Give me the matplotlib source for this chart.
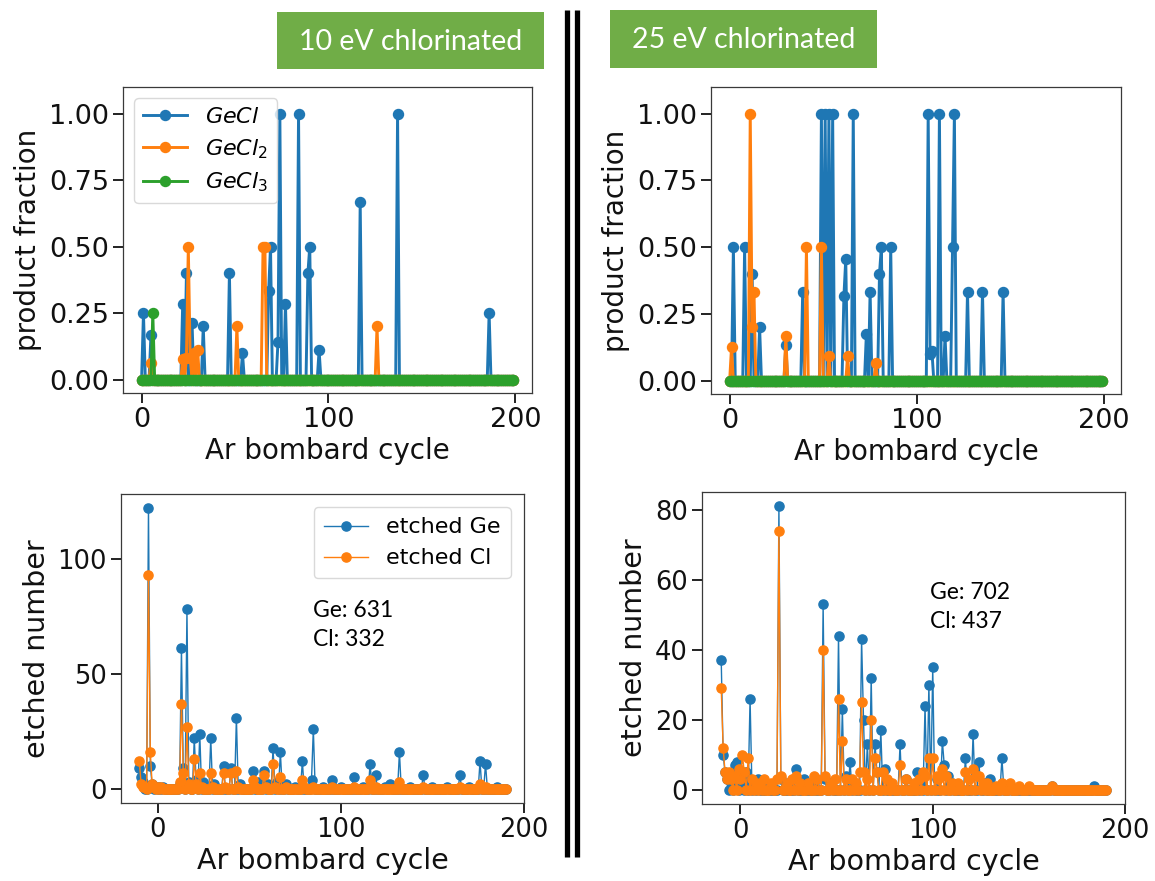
import numpy as np
import matplotlib
matplotlib.use("Agg")
import matplotlib.pyplot as plt
from matplotlib.lines import Line2D
from matplotlib.patches import Rectangle

W, H = 1155, 881
DPI = 100

# ---------------- data ----------------
# top panels: product fraction vs Ar bombard cycle (0..199), only non-zero entries listed
cycles_top = np.arange(0, 200)

gecl_10_cyc = [1, 5, 22, 24, 27, 33, 47, 54, 68, 69, 73, 74, 77, 84, 89, 90, 95, 117, 137, 186]
gecl_10_val = [0.25, 0.167, 0.286, 0.4, 0.214, 0.2, 0.4, 0.1, 0.333, 0.5, 0.143, 1.0, 0.286, 1.0,
               0.4, 0.5, 0.111, 0.667, 1.0, 0.25]
gecl2_10_cyc = [5, 22, 24, 25, 26, 28, 30, 51, 65, 66, 126]
gecl2_10_val = [0.0625, 0.077, 0.083, 0.5, 0.083, 0.1, 0.111, 0.2, 0.5, 0.5, 0.2]
gecl3_10_cyc = [6]
gecl3_10_val = [0.25]

gecl_25_cyc = [2, 8, 12, 16, 30, 39, 49, 51, 53, 55, 61, 62, 66, 73, 75, 80, 81, 86, 106, 107, 108,
               112, 115, 119, 120, 127, 135, 146]
gecl_25_val = [0.5, 0.5, 0.4, 0.2, 0.133, 0.333, 1.0, 1.0, 1.0, 1.0, 0.316, 0.455, 1.0, 0.176, 0.333,
               0.4, 0.5, 0.5, 1.0, 0.1, 0.111, 1.0, 0.167, 0.5, 1.0, 0.333, 0.333, 0.333]
gecl2_25_cyc = [1, 11, 12, 13, 30, 41, 49, 53, 63, 78]
gecl2_25_val = [0.125, 1.0, 0.2, 0.333, 0.167, 0.5, 0.5, 0.091, 0.091, 0.067]
gecl3_25_cyc = []
gecl3_25_val = []

# bottom panels: etched number vs Ar bombard cycle (-10..190), only non-zero entries listed
cycles_bot = np.arange(-10, 191)

ge_10_cyc = [-10, -9, -8, -5, -4, -3, -1, 1, 3, 12, 13, 14, 16, 17, 20, 21, 23, 25, 29, 31, 36, 40,
             43, 45, 52, 55, 58, 60, 63, 65, 67, 70, 75, 79, 84, 85, 90, 95, 100, 107, 112, 116, 119,
             124, 127, 132, 138, 145, 150, 158, 165, 170, 176, 179, 185]
ge_10_val = [9, 5, 3, 122, 10, 2, 1, 1, 1, 2, 61, 9, 78, 3, 22, 4, 24, 3, 22, 2, 10, 9,
             31, 2, 8, 3, 8, 2, 18, 3, 16, 2, 1, 12, 4, 26, 1, 4, 1, 5, 1, 11, 6,
             1, 2, 16, 1, 6, 1, 1, 6, 1, 12, 11, 1]
cl_10_cyc = [-10, -9, -8, -7, -5, -4, -3, -2, 0, 2, 12, 13, 14, 16, 17, 20, 21, 23, 24, 29, 30, 36,
             37, 40, 43, 44, 52, 53, 58, 59, 63, 64, 67, 70, 79, 80, 85, 95, 107, 116, 119, 132,
             145, 165, 176, 179]
cl_10_val = [12, 2, 1, 1, 93, 16, 2, 1, 1, 1, 3, 37, 7, 27, 2, 13, 2, 7, 1, 7, 1, 7,
             1, 7, 8, 1, 4, 1, 6, 1, 11, 1, 5, 1, 4, 1, 1, 1, 1, 4, 1, 3,
             1, 1, 2, 1]

ge_25_cyc = [-10, -9, -8, -7, -5, -3, -2, 0, 1, 3, 5, 7, 9, 14, 20, 21, 25, 29, 33, 38, 43, 44, 47,
             51, 53, 55, 57, 59, 63, 64, 66, 68, 70, 71, 73, 75, 78, 83, 86, 92, 94, 96, 98, 100,
             102, 105, 106, 108, 110, 117, 121, 124, 127, 130, 136, 140, 162, 184]
ge_25_val = [37, 10, 5, 3, 2, 7, 8, 4, 2, 5, 26, 2, 3, 1, 81, 3, 2, 6, 3, 2, 53, 3, 2,
             44, 23, 4, 8, 2, 43, 20, 13, 32, 13, 5, 17, 6, 2, 13, 3, 5, 2, 24, 30, 35,
             3, 14, 7, 4, 2, 9, 16, 8, 2, 3, 9, 1, 1, 1]
cl_25_cyc = [-10, -9, -8, -7, -6, -5, -3, -1, 0, 1, 2, 4, 6, 8, 10, 12, 16, 19, 20, 21, 24, 27, 29,
             31, 35, 38, 40, 43, 44, 47, 49, 51, 53, 55, 58, 60, 62, 63, 64, 66, 68, 70, 71, 74,
             76, 79, 83, 86, 90, 93, 95, 96, 98, 100, 102, 103, 105, 107, 110, 113, 117, 119, 121,
             123, 124, 126, 128, 133, 136, 140, 145, 150, 162]
cl_25_val = [29, 12, 5, 3, 5, 3, 4, 6, 3, 10, 5, 9, 3, 2, 2, 3, 2, 3, 74, 4, 2, 3, 4,
             2, 2, 4, 3, 40, 4, 2, 3, 26, 14, 3, 3, 2, 5, 25, 5, 3, 20, 9, 5, 5,
             3, 2, 7, 3, 2, 3, 5, 4, 9, 9, 4, 3, 6, 4, 2, 2, 5, 3, 6,
             4, 4, 2, 2, 1, 2, 2, 1, 1, 1]

totals_10 = ("Ge: 631", "Cl: 332")
totals_25 = ("Ge: 702", "Cl: 437")
headers = ("10 eV chlorinated", "25 eV chlorinated")


def series(cycles, cyc, val):
    y = np.zeros(len(cycles))
    for c, v in zip(cyc, val):
        y[int(np.where(cycles == c)[0][0])] = v
    return y


# ---------------- styling ----------------
C_BLUE, C_ORANGE, C_GREEN = "#1f77b4", "#ff7f0e", "#2ca02c"
EDGE = "#111111"
plt.rcParams["font.family"] = ["DejaVu Sans"]
plt.rcParams["mathtext.fontset"] = "dejavusans"

fig = plt.figure(figsize=(W / DPI, H / DPI), dpi=DPI)
fig.patch.set_facecolor("white")


def px_axes(l, t, r, b):
    return fig.add_axes([l / W, 1 - b / H, (r - l) / W, (b - t) / H])


def style(ax, tick_fs, label_fs, ylabel):
    for s in ax.spines.values():
        s.set_linewidth(0.9)
        s.set_color("#3a3a3a")
    ax.tick_params(axis="both", which="major", labelsize=tick_fs, length=7, width=1.3,
                   color=EDGE, labelcolor=EDGE, pad=3)
    ax.set_xlabel("Ar bombard cycle", fontsize=label_fs, color=EDGE, labelpad=3)
    ax.set_ylabel(ylabel, fontsize=label_fs, color=EDGE, labelpad=5)


# ---- top panels ----
top_specs = [
    ((123, 87, 532, 393), (gecl_10_cyc, gecl_10_val), (gecl2_10_cyc, gecl2_10_val),
     (gecl3_10_cyc, gecl3_10_val), True),
    ((711, 87, 1121, 394), (gecl_25_cyc, gecl_25_val), (gecl2_25_cyc, gecl2_25_val),
     (gecl3_25_cyc, gecl3_25_val), False),
]
for box, s1, s2, s3, show_leg in top_specs:
    ax = px_axes(*box)
    kw = dict(marker="o", markersize=7.2, linewidth=2.1)
    ax.plot(cycles_top, series(cycles_top, *s1), color=C_BLUE, label=r"$GeCl$", **kw)
    ax.plot(cycles_top, series(cycles_top, *s2), color=C_ORANGE, label=r"$GeCl_2$", **kw)
    ax.plot(cycles_top, series(cycles_top, *s3), color=C_GREEN, label=r"$GeCl_3$", **kw)
    ax.set_ylim(-0.05, 1.1)
    ax.set_xlim(-9.95, 208.95)
    ax.set_xticks([0, 100, 200])
    ax.set_yticks([0, 0.25, 0.5, 0.75, 1.0])
    ax.set_yticklabels(["0.00", "0.25", "0.50", "0.75", "1.00"])
    style(ax, 19.5, 20, "product fraction")
    if show_leg:
        leg = ax.legend(loc="upper left", fontsize=16, frameon=True, borderpad=0.4,
                        labelspacing=0.45, handlelength=2.0, handletextpad=0.8,
                        borderaxespad=0.5)
        leg.get_frame().set_edgecolor("#d0d0d0")

# ---- bottom panels ----
bot_specs = [
    ((121, 494, 524, 803), (ge_10_cyc, ge_10_val), (cl_10_cyc, cl_10_val), totals_10,
     (313, 600), True, [0, 50, 100]),
    ((702, 492, 1125, 804), (ge_25_cyc, ge_25_val), (cl_25_cyc, cl_25_val), totals_25,
     (930, 582), False, [0, 20, 40, 60, 80]),
]
for box, sg, sc, totals, tpos, show_leg, yt in bot_specs:
    ax = px_axes(*box)
    kw = dict(marker="o", markersize=6.6, linewidth=1.0)
    ax.plot(cycles_bot, series(cycles_bot, *sg), color=C_BLUE, label="etched Ge", **kw)
    ax.plot(cycles_bot, series(cycles_bot, *sc), color=C_ORANGE, label="etched Cl", **kw)
    ax.set_xlim(-20, 200)
    ax.set_xticks([0, 100, 200])
    ax.set_yticks(yt)
    style(ax, 18.5, 20.5, "etched number")
    if show_leg:
        leg = ax.legend(loc="upper right", fontsize=16, frameon=True, borderpad=0.45,
                        labelspacing=0.5, handlelength=2.0, handletextpad=0.8,
                        borderaxespad=0.6)
        leg.get_frame().set_edgecolor("#d0d0d0")
    fig.text(tpos[0] / W, 1 - tpos[1] / H, totals[0] + "\n" + totals[1], fontsize=16.5,
             family=["Lato", "DejaVu Sans"], color="black", ha="left", va="top",
             linespacing=1.45)

# ---- header boxes ----
for (l, t, r, b), txt in zip([(277, 12, 544, 69), (610, 10, 877, 68)], headers):
    fig.patches.append(Rectangle((l / W, 1 - b / H), (r - l) / W, (b - t) / H,
                                 transform=fig.transFigure, facecolor="#70AD47",
                                 edgecolor="none", zorder=1))
    fig.text((l + r) / 2 / W, 1 - ((t + b) / 2 + 1) / H, txt, fontsize=20.5,
             family=["Lato", "DejaVu Sans"], color="white", ha="center", va="center", zorder=2)

# ---- double vertical separator ----
for xc in (567, 577):
    fig.lines.append(Line2D([xc / W, xc / W], [1 - 10 / H, 1 - 857 / H], transform=fig.transFigure,
                            color="black", linewidth=3.8, solid_capstyle="butt"))

fig.savefig("out.png", dpi=DPI, facecolor="white")
